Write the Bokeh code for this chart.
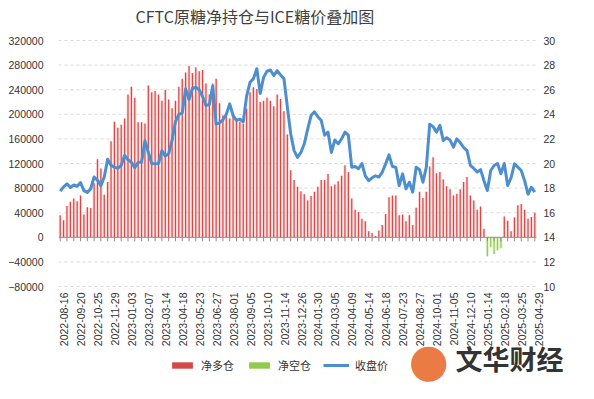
from bokeh.plotting import figure
from bokeh.models import (Range1d, FixedTicker, Legend, LegendItem, Label, BasicTickFormatter)
from bokeh.core.properties import value
from bokeh.embed import file_html
from bokeh.resources import INLINE

tick_labels = ["2022-08-16", "2022-09-20", "2022-10-25", "2022-11-29", "2023-01-03",
               "2023-02-07", "2023-03-14", "2023-04-18", "2023-05-23", "2023-06-27",
               "2023-08-01", "2023-09-05", "2023-10-10", "2023-11-14", "2023-12-26",
               "2024-01-30", "2024-03-05", "2024-04-09", "2024-05-14", "2024-06-18",
               "2024-07-23", "2024-08-27", "2024-10-01", "2024-11-05", "2024-12-10",
               "2025-01-14", "2025-02-18", "2025-03-25", "2025-04-29"]

net_position = [
    36000, 27600, 50800, 58000, 63000, 58500, 68000, 37000, 49000, 47600,
    88000, 127000, 112000, 69000, 90000, 156000, 188000, 178000, 183000, 193000,
    232000, 245000, 227000, 187000, 187000, 185000, 247000, 236000, 238000, 232000,
    222000, 240000, 224000, 210000, 222000, 245000, 258000, 268000, 279000, 267000,
    276000, 270000, 272000, 250000, 232000, 250000, 258000, 218000, 198000, 200000,
    193000, 200000, 190000, 188000, 185000, 209000, 236000, 244000, 241000, 220000,
    222000, 227000, 222000, 213000, 232000, 225000, 205000, 167000, 109000, 93000,
    82000, 75000, 70000, 60000, 67000, 74000, 82000, 93000, 93000, 103000,
    83000, 86000, 91000, 100000, 117000, 106000, 63000, 45000, 41000, 30000,
    26000, 10000, 7000, 2000, 11000, 20000, 38000, 65000, 68000, 68000,
    36000, 37000, 26000, 36000, 20000, 48000, 74000, 64000, 74000, 115000,
    130000, 104000, 106000, 94000, 83000, 78000, 68000, 71000, 78000, 90000,
    98000, 68000, 60000, 45000, 50000, 14000, -31000, -16000, -27000, -21000,
    -18000, 34000, 27000, 10000, 32000, 52000, 54000, 45000, 30000, 33000,
    40000]

close_price = [
    17.75, 18.1, 18.35, 18.05, 18.25, 18.15, 18.45, 17.8, 17.65, 17.95,
    18.9, 18.65, 18.2, 18.9, 20.35, 19.85, 19.7, 19.6, 19.85, 20.65,
    20.3, 20.1, 19.65, 20.1, 20.1, 21.85, 20.9, 20.0, 19.97, 20.0,
    21.05, 20.6, 20.8, 21.9, 23.4, 24.0, 24.1, 26.07, 25.2, 26.1,
    26.2, 26.0, 25.45, 24.7, 24.8, 26.3, 23.2, 23.3, 23.55, 24.0,
    24.85, 23.9, 23.5, 23.6, 23.4, 25.5, 26.6, 26.9, 27.7, 25.7,
    27.0, 27.5, 27.6, 27.15, 27.55, 27.2, 26.9, 24.6, 22.4, 21.05,
    20.5, 20.9, 21.6, 22.8, 23.9, 24.2, 23.8, 23.5, 22.3, 22.55,
    20.9, 21.9, 21.6, 22.0, 22.55, 22.3, 19.7, 19.75, 19.57, 20.0,
    19.0, 18.6, 18.84, 19.0, 18.9, 19.3, 19.97, 20.7, 19.76, 19.7,
    18.2, 19.16, 17.94, 18.48, 17.67, 19.7, 19.5, 18.48, 19.7, 23.2,
    23.0, 22.55, 23.1, 21.87, 22.1, 21.9, 21.33, 22.0, 21.7, 21.3,
    21.05, 19.84, 19.6, 19.3, 19.5, 18.6, 17.8, 19.43, 19.84, 20.0,
    19.16, 20.0, 18.2, 18.84, 19.97, 19.7, 19.43, 18.6, 17.5, 18.07,
    17.67]

left_ticks = [-80000, -40000, 0, 40000, 80000, 120000, 160000, 200000, 240000, 280000, 320000]
right_ticks = [10, 12, 14, 16, 18, 20, 22, 24, 26, 28, 30]

n = len(net_position)
idx = list(range(n))
long_pos = [v if v > 0 else 0 for v in net_position]
short_pos = [v if v < 0 else 0 for v in net_position]

NUM_FONT = "Liberation Sans"
CJK_FONT = "Noto Sans CJK SC"
TXT = "#333333"

# layout in pixels: frame runs from x=58 to the right edge and over the full height;
# the value area is 58..536 wide and 40..286 tall
W, H = 594, 399
FRAME_L, VAL_R = 58, 536
TOP_PAD, VAL_H = 40, 246
BOT_PAD = H - TOP_PAD - VAL_H
cat_px = (VAL_R - FRAME_L) / n
u = (left_ticks[-1] - left_ticks[0]) / VAL_H            # net-position units per px
v = (right_ticks[-1] - right_ticks[0]) / VAL_H          # price units per px
x_lo = -0.5
x_hi = x_lo + (W - FRAME_L) / cat_px
x_end = n - 0.5

p = figure(width=W, height=H,
           x_range=Range1d(x_lo, x_hi),
           y_range=Range1d(left_ticks[0] - BOT_PAD * u, left_ticks[-1] + TOP_PAD * u),
           output_backend="svg", toolbar_location=None, x_axis_location=None,
           min_border_left=FRAME_L, min_border_right=0,
           min_border_top=0, min_border_bottom=0)
p.outline_line_color = None
p.background_fill_color = "white"
p.border_fill_color = "white"
p.xgrid.visible = False
p.ygrid.visible = False
p.extra_y_ranges = {"price": Range1d(right_ticks[0] - BOT_PAD * v, right_ticks[-1] + TOP_PAD * v)}

# left axis
yl = p.yaxis[0]
yl.ticker = FixedTicker(ticks=left_ticks)
yl.formatter = BasicTickFormatter(use_scientific=False)
yl.axis_line_color = None
yl.major_tick_line_color = None
yl.minor_tick_line_color = None
yl.major_label_text_font = NUM_FONT
yl.major_label_text_font_size = "10.5px"
yl.major_label_text_color = TXT
yl.major_label_standoff = 9

# horizontal dashed grid over the value area
grid_ticks = [t for t in left_ticks if t != 0]
p.segment(x0=[x_lo] * len(grid_ticks), x1=[x_end] * len(grid_ticks),
          y0=grid_ticks, y1=grid_ticks, line_color="#d9d9d9", line_dash="3 3", line_width=1)

# right axis labels
p.text(x=[x_end + 7 / cat_px] * len(right_ticks), y=right_ticks, y_range_name="price",
       text=[str(t) for t in right_ticks], text_align="left", text_baseline="middle",
       text_font=value(NUM_FONT), text_font_size="10.5px", text_color=TXT)

# bars: soft halo + thin core
p.vbar(x=idx, top=long_pos, width=0.95, fill_color="#f7c4c4", fill_alpha=0.55, line_color=None)
p.vbar(x=idx, top=short_pos, width=0.95, fill_color="#d3ecb4", fill_alpha=0.6, line_color=None)
r_long = p.vbar(x=idx, top=long_pos, width=0.36, fill_color="#d44848", line_color=None)
r_short = p.vbar(x=idx, top=short_pos, width=0.36, fill_color="#8fcc4c", line_color=None)

# zero axis line with tick marks
p.segment(x0=[x_lo], x1=[x_end], y0=[0], y1=[0], line_color="#8c8c8c", line_width=1)
tick_x = idx[::2]
p.segment(x0=tick_x, y0=[0] * len(tick_x), x1=tick_x, y1=[-4 * u] * len(tick_x),
          line_color="#8c8c8c", line_width=1)

# price line
r_price = p.line(idx, close_price, y_range_name="price", line_color="#4d8ecf", line_width=3,
                 line_join="round")

# category labels (vertical, below the value area, drawn slightly right of their category)
label_pos = [5 * k for k in range(len(tick_labels))]
p.text(x=[k + 4 / cat_px for k in label_pos], y=[left_ticks[0] - 6 * u] * len(label_pos),
       text=tick_labels, angle=3.14159265 / 2, text_align="right", text_baseline="middle",
       text_font=value(NUM_FONT), text_font_size="10.5px", text_color=TXT)

# title
p.add_layout(Label(x=135 - FRAME_L, y=H - 15.5, x_units="screen", y_units="screen",
                   text="CFTC原糖净持仓与ICE糖价叠加图", text_font=CJK_FONT,
                   text_font_size="16px", text_color="#404040", text_baseline="middle"))

legend = Legend(items=[LegendItem(label="净多仓", renderers=[r_long]),
                       LegendItem(label="净空仓", renderers=[r_short]),
                       LegendItem(label="收盘价", renderers=[r_price])],
                orientation="horizontal", location=(169 - FRAME_L, H - 373),
                glyph_width=26, glyph_height=8, label_standoff=6, spacing=12,
                padding=2, margin=0, border_line_color=None, background_fill_alpha=0,
                label_text_font=CJK_FONT, label_text_font_size="11px",
                label_text_color=TXT)
p.add_layout(legend)

# watermark logo
p.add_layout(Label(x=428 - FRAME_L, y=H - 359, x_units="screen", y_units="screen", text="●",
                   text_font="DejaVu Sans", text_font_size="46px", text_color="#e8692b",
                   text_align="center", text_baseline="middle", text_alpha=0.9))
p.add_layout(Label(x=455 - FRAME_L, y=H - 358, x_units="screen", y_units="screen", text="文华财经",
                   text_font=CJK_FONT, text_font_size="27px", text_font_style="bold",
                   text_color="#333333", text_baseline="middle"))

open("out.html", "w").write(file_html(p, INLINE))
